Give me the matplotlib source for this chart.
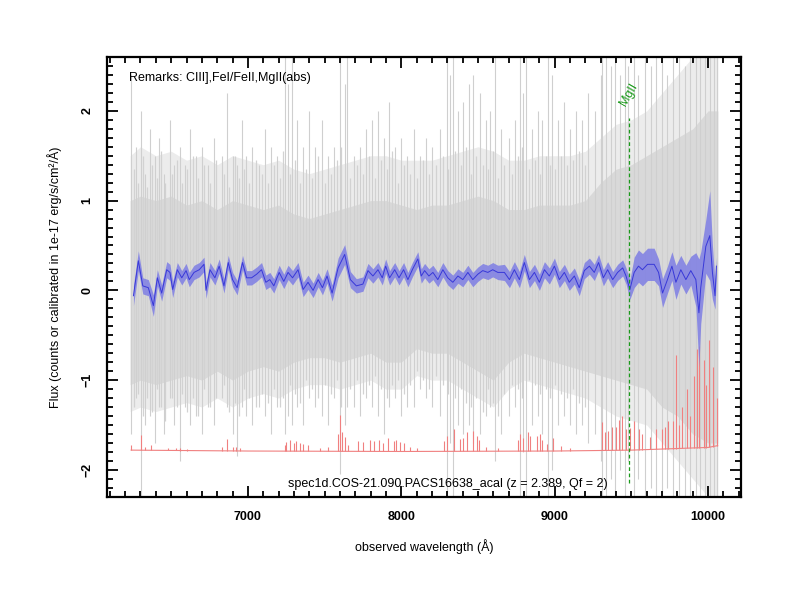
import numpy as np
import matplotlib
matplotlib.use("Agg")
import matplotlib.pyplot as plt
from matplotlib.ticker import MultipleLocator

plt.rcParams['font.family'] = ['Liberation Sans', 'DejaVu Sans']

# ---------------- data ----------------
# smoothed spectrum (blue)
blue_wl = [6254, 6286, 6315, 6351, 6384, 6410, 6438, 6471, 6492, 6510, 6540, 6569, 6597, 6618,
           6649, 6683, 6714, 6727, 6753, 6785, 6813, 6844, 6872, 6900, 6930, 6965, 6992, 7024,
           7057, 7089, 7117, 7143, 7169, 7204, 7234, 7262, 7291, 7327, 7360, 7392, 7425, 7458,
           7486, 7516, 7549, 7588, 7631, 7668, 7707, 7750, 7783, 7815, 7848, 7876, 7898, 7924,
           7957, 7985, 8015, 8043, 8072, 8108, 8130, 8152, 8180, 8206, 8238, 8271, 8303, 8336,
           8369, 8401, 8434, 8466, 8499, 8531, 8564, 8596, 8629, 8672, 8705, 8737, 8770, 8802,
           8835, 8868, 8900, 8933, 8965, 8998, 9030, 9063, 9095, 9128, 9160, 9193, 9226, 9258,
           9286, 9317, 9345, 9378, 9410, 9443, 9465, 9490, 9518, 9546, 9572, 9605, 9648, 9677,
           9703, 9735, 9764, 9790, 9822, 9855, 9887, 9920, 9940, 9952, 9985, 10011, 10028, 10045,
           10054]
blue_flux = [-0.06, 0.33, 0.05, 0.03, -0.17, 0.14, -0.03, 0.23, 0.20, 0.01, 0.23, 0.14, 0.22, 0.12,
             0.20, 0.23, 0.29, 0.00, 0.23, 0.14, 0.27, 0.05, 0.31, 0.12, 0.03, 0.31, 0.14, 0.14,
             0.18, 0.23, 0.09, 0.12, 0.05, 0.20, 0.10, 0.20, 0.14, 0.23, 0.01, 0.09, 0.00, 0.12,
             0.03, 0.16, -0.03, 0.25, 0.40, 0.12, 0.05, 0.07, 0.22, 0.16, 0.23, 0.14, 0.27, 0.14,
             0.23, 0.14, 0.23, 0.12, 0.23, 0.35, 0.16, 0.22, 0.16, 0.20, 0.12, 0.23, 0.14, 0.09,
             0.16, 0.12, 0.20, 0.12, 0.18, 0.22, 0.20, 0.23, 0.20, 0.20, 0.12, 0.23, 0.12, 0.31,
             0.12, 0.20, 0.09, 0.23, 0.16, 0.27, 0.12, 0.20, 0.09, 0.16, 0.03, 0.22, 0.27, 0.20,
             0.31, 0.14, 0.23, 0.12, 0.20, 0.25, 0.16, 0.01, 0.20, 0.27, 0.23, 0.29, 0.29, 0.20,
             -0.03, 0.12, 0.27, 0.09, 0.23, 0.12, 0.22, 0.12, -0.25, 0.03, 0.49, 0.61, 0.20, -0.06,
             0.27]
blue_err = [0.11, 0.11, 0.09, 0.09, 0.12, 0.09, 0.09, 0.09, 0.09, 0.09, 0.08, 0.08, 0.08, 0.08,
            0.08, 0.08, 0.08, 0.09, 0.08, 0.08, 0.08, 0.08, 0.08, 0.08, 0.08, 0.08, 0.08, 0.08,
            0.08, 0.08, 0.08, 0.08, 0.08, 0.08, 0.08, 0.08, 0.08, 0.08, 0.08, 0.08, 0.08, 0.08,
            0.08, 0.08, 0.09, 0.11, 0.11, 0.09, 0.08, 0.08, 0.08, 0.08, 0.08, 0.08, 0.08, 0.08,
            0.08, 0.08, 0.08, 0.08, 0.08, 0.08, 0.08, 0.08, 0.08, 0.08, 0.08, 0.08, 0.08, 0.08,
            0.08, 0.08, 0.08, 0.08, 0.08, 0.08, 0.08, 0.08, 0.08, 0.09, 0.09, 0.09, 0.09, 0.09,
            0.09, 0.09, 0.09, 0.09, 0.09, 0.09, 0.09, 0.09, 0.09, 0.09, 0.09, 0.09, 0.09, 0.09,
            0.09, 0.09, 0.09, 0.09, 0.09, 0.09, 0.09, 0.11, 0.17, 0.18, 0.18, 0.18, 0.18, 0.15,
            0.16, 0.15, 0.16, 0.19, 0.16, 0.16, 0.16, 0.30, 0.60, 0.40, 0.30, 0.50, 0.30, 0.15,
            0.10]

# raw spectrum (grey): envelopes of dense part and of fainter part
env_wl = [6233, 6300, 6400, 6500, 6600, 6700, 6800, 6900, 7000, 7100, 7200, 7300, 7400, 7500,
          7600, 7700, 7800, 7900, 8000, 8100, 8200, 8300, 8400, 8500, 8600, 8700, 8800, 8900,
          9000, 9100, 9200, 9300, 9400, 9500, 9600, 9700, 9800, 9900, 10000, 10063]
core_hi = [1.0, 1.05, 1.0, 1.05, 0.95, 1.0, 0.9, 1.0, 0.95, 0.9, 0.95, 0.85, 0.8, 0.85,
           0.9, 0.95, 1.0, 1.0, 0.95, 0.9, 0.95, 0.95, 1.0, 1.05, 1.0, 0.9, 0.9, 0.95,
           0.95, 0.95, 1.0, 1.2, 1.35, 1.4, 1.5, 1.6, 1.7, 1.8, 2.0, 2.0]
core_lo = [-1.05, -1.0, -1.05, -1.0, -0.95, -1.0, -0.9, -1.0, -0.9, -0.85, -0.9, -0.8, -0.75, -0.75,
           -0.8, -0.75, -0.7, -0.8, -0.8, -0.65, -0.7, -0.7, -0.8, -0.9, -1.0, -0.8, -0.7, -0.75,
           -0.8, -0.85, -0.9, -0.95, -1.0, -1.05, -1.1, -1.3, -1.4, -1.6, -1.7, -1.7]
outer_hi = [1.5, 1.6, 1.5, 1.55, 1.45, 1.5, 1.4, 1.5, 1.45, 1.4, 1.45, 1.35, 1.3, 1.35,
            1.4, 1.45, 1.5, 1.5, 1.45, 1.45, 1.45, 1.5, 1.55, 1.6, 1.55, 1.45, 1.45, 1.5,
            1.5, 1.5, 1.55, 1.7, 1.85, 1.9, 2.0, 2.2, 2.4, 2.6, 2.6, 2.6]
outer_lo = [-1.35, -1.3, -1.35, -1.3, -1.25, -1.3, -1.2, -1.3, -1.2, -1.15, -1.2, -1.1, -1.05, -1.05,
            -1.1, -1.05, -1.0, -1.1, -1.1, -0.95, -1.0, -1.0, -1.1, -1.2, -1.3, -1.1, -1.0, -1.05,
            -1.1, -1.15, -1.2, -1.3, -1.4, -1.45, -1.5, -1.7, -1.9, -2.1, -2.3, -2.3]
# moderate noisy pixels of the raw spectrum
streak_wl = [6255, 6285, 6318, 6345, 6378, 6405, 6432, 6462, 6505, 6535,
             6570, 6605, 6640, 6675, 6715, 6755, 6795, 6845, 6880, 6915,
             6945, 6975, 7010, 7050, 7090, 7130, 7170, 7210, 7230, 7275,
             7305, 7340, 7380, 7420, 7460, 7500, 7540, 7580, 7610, 7665,
             7710, 7750, 7790, 7830, 7870, 7905, 7940, 7980, 8020, 8060,
             8100, 8140, 8180, 8225, 8270, 8305, 8350, 8390, 8420, 8455,
             8490, 8530, 8565, 8595, 8630, 8670, 8720, 8760, 8785, 8830,
             8870, 8905, 8940, 8970, 9005, 9040, 9080, 9120, 9160, 9200]
streak_hi = [1.35, 1.2, 1.5, 1.15, 1.4, 1.25, 1.55, 1.2, 1.3, 1.45,
             1.2, 1.35, 1.5, 1.25, 1.4, 1.2, 1.45, 1.3, 1.15, 1.5,
             1.25, 1.35, 1.2, 1.45, 1.3, 1.2, 1.4, 1.25, 1.55, 1.3,
             1.45, 1.2, 1.35, 1.25, 1.5, 1.2, 1.3, 1.45, 1.6, 1.25,
             1.4, 1.3, 1.5, 1.25, 1.45, 1.35, 1.55, 1.2, 1.4, 1.3,
             1.25, 1.45, 1.3, 1.4, 1.5, 1.35, 1.55, 1.4, 1.6, 1.3,
             1.5, 1.4, 1.35, 1.55, 1.25, 1.4, 1.3, 1.5, 1.6, 1.35,
             1.45, 1.3, 1.5, 1.4, 1.35, 1.5, 1.4, 1.45, 1.55, 1.4]
streak_lo = [-1.3, -1.15, -1.4, -1.2, -1.35, -1.1, -1.3, -1.45, -1.2, -1.3,
             -1.15, -1.35, -1.2, -1.4, -1.1, -1.3, -1.2, -1.05, -1.35, -1.25,
             -1.4, -1.1, -1.2, -1.3, -1.15, -1.25, -1.1, -1.3, -1.2, -1.05,
             -1.15, -1.25, -1.0, -1.1, -1.2, -1.05, -1.15, -1.0, -1.3, -1.1,
             -1.0, -1.15, -1.05, -0.95, -1.1, -1.2, -1.05, -1.0, -1.15, -1.05,
             -0.9, -1.0, -1.1, -0.95, -1.05, -1.15, -1.2, -1.1, -1.25, -1.3,
             -1.2, -1.35, -1.1, -1.25, -1.4, -1.15, -1.05, -1.1, -1.2, -1.0,
             -1.05, -1.15, -1.1, -1.2, -1.05, -1.15, -1.2, -1.1, -1.25, -1.3]
# individual strong pixels / sky residuals in the raw spectrum
spike_wl = [6240, 6270, 6304, 6330, 6360, 6395, 6420, 6450, 6490, 6520, 6555, 6590, 6620, 6660,
            6700, 6740, 6780, 6830, 6866, 6900, 6930, 6960, 6990, 7030, 7070, 7110, 7150, 7190,
            7243, 7262, 7289, 7320, 7360, 7400, 7440, 7480, 7520, 7560, 7599, 7632, 7645, 7690,
            7730, 7770, 7810, 7850, 7890, 7920, 7960, 8000, 8040, 8080, 8120, 8160, 8200, 8250,
            8296, 8315, 8335, 8370, 8400, 8440, 8467, 8512, 8550, 8580, 8610, 8650, 8700, 8740,
            8772, 8795, 8815, 8850, 8890, 8920, 8954, 8985, 9020, 9060, 9100, 9140, 9180, 9220,
            9260, 9300, 9310, 9335, 9365, 9395, 9425, 9455, 9475, 9515, 9545, 9590, 9625, 9660,
            9700, 9735, 9770, 9810, 9850, 9885, 9920, 9950, 9980, 10010, 10040, 10058]
spike_hi = [2.4, 1.6, 2.0, 1.3, 1.8, 1.5, 1.7, 1.3, 1.9, 1.4, 1.6, 1.4, 1.8, 1.5,
            1.6, 1.4, 1.7, 1.5, 2.2, 1.5, 1.4, 1.9, 1.5, 1.6, 1.4, 1.8, 1.6, 1.5,
            2.6, 2.3, 2.6, 1.9, 1.6, 2.0, 1.6, 1.9, 1.5, 1.6, 2.6, 2.3, 2.6, 1.5,
            1.6, 1.8, 1.9, 2.0, 1.7, 2.1, 1.6, 1.7, 1.5, 1.8, 1.5, 1.7, 1.6, 1.8,
            2.6, 2.4, 2.6, 2.0, 2.1, 2.3, 2.4, 2.2, 1.9, 2.0, 2.6, 1.8, 1.7, 1.9,
            2.6, 2.2, 2.6, 1.8, 2.0, 1.9, 2.6, 2.4, 1.9, 2.1, 1.8, 2.0, 1.9, 2.2,
            2.0, 2.4, 2.6, 2.6, 2.5, 2.6, 2.4, 2.6, 2.5, 2.6, 2.4, 2.6, 2.5, 2.6,
            2.6, 2.4, 2.6, 2.6, 2.5, 2.6, 2.6, 2.6, 2.6, 2.6, 2.6, 2.6]
spike_lo = [-1.6, -1.2, -2.3, -1.5, -1.4, -1.7, -1.3, -1.6, -1.2, -1.5, -1.9, -1.3, -1.5, -1.4,
            -1.6, -1.3, -1.5, -1.2, -1.3, -1.6, -1.85, -1.3, -1.4, -1.5, -1.3, -1.4, -1.6, -1.3,
            -1.6, -1.4, -1.5, -1.3, -1.5, -1.2, -1.3, -1.4, -1.5, -1.2, -2.05, -1.5, -1.3, -1.3,
            -1.4, -1.2, -1.3, -1.4, -1.6, -1.3, -1.2, -1.4, -1.3, -1.3, -1.1, -1.2, -1.3, -1.4,
            -2.3, -1.7, -2.3, -1.5, -1.6, -1.5, -1.7, -1.6, -1.4, -1.3, -1.9, -1.6, -1.4, -1.3,
            -2.3, -1.8, -2.3, -1.5, -1.4, -1.6, -2.3, -2.0, -1.5, -1.4, -1.5, -1.6, -1.5, -1.7,
            -1.6, -1.9, -2.3, -2.3, -2.1, -2.3, -2.0, -2.3, -1.9, -2.3, -2.1, -2.3, -2.2, -2.3,
            -2.3, -2.2, -2.3, -2.3, -2.3, -2.3, -2.3, -2.3, -2.3, -2.3, -2.3, -2.3]

# sky spectrum (red), offset below
sky_base_wl = [6239, 7000, 8000, 9000, 9500, 10000, 10062]
sky_base = [-1.78, -1.79, -1.795, -1.79, -1.78, -1.75, -1.73]
sky_line_wl = [6240, 6304, 6330, 6367, 6480, 6530, 6560, 6600, 6830, 6866, 6900, 6925, 6950,
               7240, 7250, 7276, 7300, 7316, 7340, 7360, 7395, 7470, 7525, 7586, 7599, 7615,
               7631, 7650, 7716, 7750, 7794, 7821, 7853, 7880, 7914, 7950, 7965, 7993, 8015,
               8060, 8100, 8280, 8295, 8345, 8380, 8400, 8430, 8465, 8495, 8505, 8550, 8630,
               8761, 8777, 8792, 8827, 8836, 8885, 8903, 8920, 8950, 8990, 9040, 9100, 9310,
               9325, 9350, 9376, 9400, 9420, 9440, 9465, 9490, 9520, 9550, 9570, 9620, 9660,
               9700, 9720, 9740, 9770, 9792, 9810, 9830, 9860, 9880, 9905, 9930, 9941, 9970,
               9985, 10006, 10030, 10055]
sky_line_peak = [-1.72, -1.61, -1.74, -1.72, -1.76, -1.76, -1.76, -1.77, -1.75, -1.66, -1.74, -1.75, -1.76,
                 -1.72, -1.69, -1.67, -1.70, -1.68, -1.70, -1.71, -1.72, -1.76, -1.75, -1.60, -1.39, -1.58,
                 -1.63, -1.72, -1.68, -1.69, -1.67, -1.68, -1.67, -1.70, -1.65, -1.68, -1.67, -1.69, -1.70,
                 -1.75, -1.76, -1.68, -1.62, -1.55, -1.66, -1.64, -1.58, -1.57, -1.62, -1.67, -1.74, -1.76,
                 -1.67, -1.60, -1.64, -1.58, -1.62, -1.62, -1.60, -1.67, -1.71, -1.64, -1.73, -1.76, -1.47,
                 -1.58, -1.57, -1.52, -1.52, -1.44, -1.40, -1.55, -1.53, -1.46, -1.55, -1.60, -1.63, -1.55,
                 -1.55, -1.52, -1.46, -1.45, -0.72, -1.50, -1.30, -1.10, -1.40, -0.95, -0.65, -0.62, -0.78,
                 -1.05, -0.55, -0.85, -1.20]

mgii_wl = 9485
z_text = "spec1d.COS-21.090.PACS16638_acal (z = 2.389, Qf = 2)"
remarks = "Remarks: CIII],FeI/FeII,MgII(abs)"

# ---------------- plot ----------------
fig = plt.figure(figsize=(8, 6), dpi=100)
ax = fig.add_axes([0.134, 0.172, 0.792, 0.733])

ax.fill_between(env_wl, outer_lo, outer_hi, color='#ececec', lw=0, zorder=1)
ax.fill_between(env_wl, core_lo, core_hi, color='#d9d9d9', lw=0, zorder=1.2)
ax.vlines(streak_wl, streak_lo, streak_hi, color='#d2d2d2', lw=0.9, zorder=1.25)
ax.vlines(spike_wl, spike_lo, spike_hi, color='#cfcfcf', lw=0.8, zorder=1.3)

# sky
ax.plot(sky_base_wl, sky_base, color='#f08080', lw=0.8, zorder=2)
sky_bottom = np.interp(sky_line_wl, sky_base_wl, sky_base)
ax.vlines(sky_line_wl, sky_bottom, sky_line_peak, color='#f08080', lw=0.8, zorder=2)

# smoothed spectrum
bw = np.array(blue_wl, dtype=float)
bf = np.array(blue_flux)
be = np.array(blue_err)
ax.fill_between(bw, bf - be, bf + be, color='#7e7ee4', alpha=0.85, lw=0, zorder=3)
ax.plot(bw, bf, color='#3838d8', lw=0.7, zorder=4)

# MgII marker
ax.plot([mgii_wl, mgii_wl], [-2.15, 1.92], color='#1a9a1a', lw=0.9, ls=(0, (3, 2)), zorder=5)
ax.text(mgii_wl, 2.03, 'MgII', color='#1a9a1a', rotation=60, fontsize=9,
        ha='center', va='bottom', zorder=5)

ax.set_xlim(6083, 10213)
ax.set_ylim(-2.3, 2.6)

ax.xaxis.set_major_locator(MultipleLocator(1000))
ax.xaxis.set_minor_locator(MultipleLocator(100))
ax.yaxis.set_major_locator(MultipleLocator(1))
ax.yaxis.set_minor_locator(MultipleLocator(0.1))
ax.tick_params(which='both', direction='in', top=True, right=True, width=1.3)
ax.tick_params(which='major', length=8, labelsize=9, pad=10)
ax.tick_params(which='minor', length=4)
for lab in ax.get_xticklabels() + ax.get_yticklabels():
    lab.set_fontweight('bold')
for lab in ax.get_yticklabels():
    lab.set_rotation(90)
    lab.set_va('center')
for s in ax.spines.values():
    s.set_linewidth(1.6)

ax.set_xlabel('observed wavelength (Å)', fontsize=9, labelpad=12)
ax.set_ylabel('Flux (counts or calibrated in 1e-17 erg/s/cm²/Å)', fontsize=9, labelpad=14)

ax.text(0.035, 0.965, remarks, transform=ax.transAxes, fontsize=9, ha='left', va='top')
ax.text(0.538, 0.03, z_text, transform=ax.transAxes, fontsize=9, ha='center', va='center')

fig.savefig('out.png', dpi=100)
